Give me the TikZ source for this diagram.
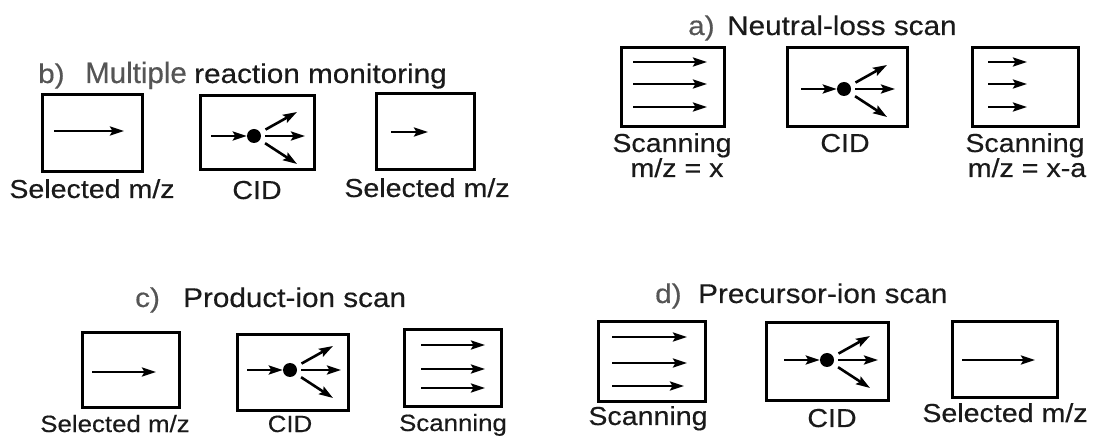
\documentclass[tikz,border=0pt]{standalone}
\usepackage{fontspec}
\newfontfamily\diafont{Liberation Sans}[FakeStretch=1.1, FakeBold=0.4]
\newfontfamily\tallfont{Liberation Sans}[FakeBold=0.4]
\usetikzlibrary{arrows.meta}
\usetikzlibrary{calc}
\definecolor{labgrey}{HTML}{555555}
\definecolor{ink}{HTML}{1A1A1A}
\tikzset{>={Stealth[length=14pt,width=9pt,inset=2.5pt]}}
\tikzset{
  cell/.style={draw, line width=3pt, inner sep=0pt},
  beam/.style={->, line width=2.6pt},
  ion/.style={circle, fill, inner sep=0pt, minimum size=14pt},
  lbl/.style={anchor=base, inner sep=0pt, text=ink, font=\diafont\fontsize{26}{30}\selectfont},
  small/.style={font=\diafont\fontsize{23.5}{28}\selectfont},
  ttl/.style={anchor=base west, inner sep=0pt, text=ink, font=\diafont\fontsize{27}{32}\selectfont},
  tag/.style={anchor=base west, inner sep=0pt, text=labgrey, font=\diafont\fontsize{27}{32}\selectfont},
}

\begin{document}
\begin{tikzpicture}[x=1pt, y=-1pt]
        \useasboundingbox (0,0) rectangle (1096,438);

        % b) MRM
        \node[tag] (b-tag) at (38,83) {b)};
        \node[tag, font=\tallfont\fontsize{29.5}{34}\selectfont] (b-mult) at (85,83) {Multiple};
        \node[ttl] (b-ttl) at (194,83) {reaction monitoring};
        \node[cell, minimum width=100pt, minimum height=77pt] (b1) at (92,133.5) {};
        \node[cell, minimum width=114pt, minimum height=74pt] (b2) at (257,133) {};
        \node[cell, minimum width=98pt, minimum height=76pt] (b3) at (425,132) {};
        \draw[beam] (54,131) -- (124,131);
        \draw[beam] (391,132) -- (428,132);
        \node[lbl] (b1-lbl) at (92,198) {Selected m/z};
        \node[lbl] (b2-lbl) at (257,199) {CID};
        \node[lbl] (b3-lbl) at (427,197) {Selected m/z};

        % a) neutral loss
        \node[tag] (a-tag) at (688,35) {a)};
        \node[ttl] (a-ttl) at (727,35) {Neutral-loss scan};
        \node[cell, minimum width=103pt, minimum height=79pt] (a1) at (672.5,87.5) {};
        \node[cell, minimum width=120pt, minimum height=79pt] (a2) at (847,87.5) {};
        \node[cell, minimum width=106pt, minimum height=79pt] (a3) at (1025,87.5) {};
        \foreach \y in {62,84,107}{
          \draw[beam] (633,\y) -- (707,\y);
          \draw[beam] (988,\y) -- (1027,\y);
        }
        \node[lbl] (a1-lbl) at (672,152) {Scanning};
        \node[lbl] (a1-mz) at (677,177) {m/z = x};
        \node[lbl] (a2-lbl) at (845,152) {CID};
        \node[lbl] (a3-lbl) at (1025,152) {Scanning};
        \node[lbl] (a3-mz) at (1027,177) {m/z = x-a};

        % c) product ion
        \node[tag] (c-tag) at (135,307) {c)};
        \node[ttl] (c-ttl) at (183,307) {Product-ion scan};
        \node[cell, minimum width=97pt, minimum height=75pt] (c1) at (130.5,370.5) {};
        \node[cell, minimum width=111pt, minimum height=76pt] (c2) at (292.5,373) {};
        \node[cell, minimum width=97pt, minimum height=77pt] (c3) at (452.5,368.5) {};
        \draw[beam] (92,372) -- (156,372);
        \foreach \y in {345,369,388}
          \draw[beam] (421,\y) -- (485,\y);
        \node[lbl, small] (c1-lbl) at (115,432) {Selected m/z};
        \node[lbl, small] (c2-lbl) at (290,432) {CID};
        \node[lbl, small] (c3-lbl) at (453,431) {Scanning};

        % d) precursor ion
        \node[tag] (d-tag) at (655,303) {d)};
        \node[ttl] (d-ttl) at (698,303) {Precursor-ion scan};
        \node[cell, minimum width=107pt, minimum height=80pt] (d1) at (651.5,362) {};
        \node[cell, minimum width=122pt, minimum height=78pt] (d2) at (827,362) {};
        \node[cell, minimum width=105pt, minimum height=76pt] (d3) at (1004.5,360) {};
        \draw[beam] (612,337) -- (687,337);
        \draw[beam] (612,363) -- (687,363);
        \draw[beam] (612,386) -- (684,386);
        \draw[beam] (962,360) -- (1035,360);
        \node[lbl] (d1-lbl) at (648,425) {Scanning};
        \node[lbl] (d2-lbl) at (832,427) {CID};
        \node[lbl] (d3-lbl) at (1005,422) {Selected m/z};

        % collision cells
        \foreach \n/\x/\y in {b/254/136, a/844/89, c/290/370, d/827/360}{
          \node[ion] (\n-ion) at (\x,\y) {};
          \coordinate (\n-in) at ($(\n-ion)+(-43,0)$);
          \coordinate (\n-up) at ($(\n-ion)+(43,-24)$);
          \coordinate (\n-mid) at ($(\n-ion)+(51,0)$);
          \coordinate (\n-dn) at ($(\n-ion)+(43,28)$);
          \draw[beam] (\n-in) -- (\n-ion);
          \draw[beam, shorten <=6pt] (\n-ion) -- (\n-up);
          \draw[beam, shorten <=4pt] (\n-ion) -- (\n-mid);
          \draw[beam, shorten <=6pt] (\n-ion) -- (\n-dn);
        }
    \end{tikzpicture}
\end{document}
